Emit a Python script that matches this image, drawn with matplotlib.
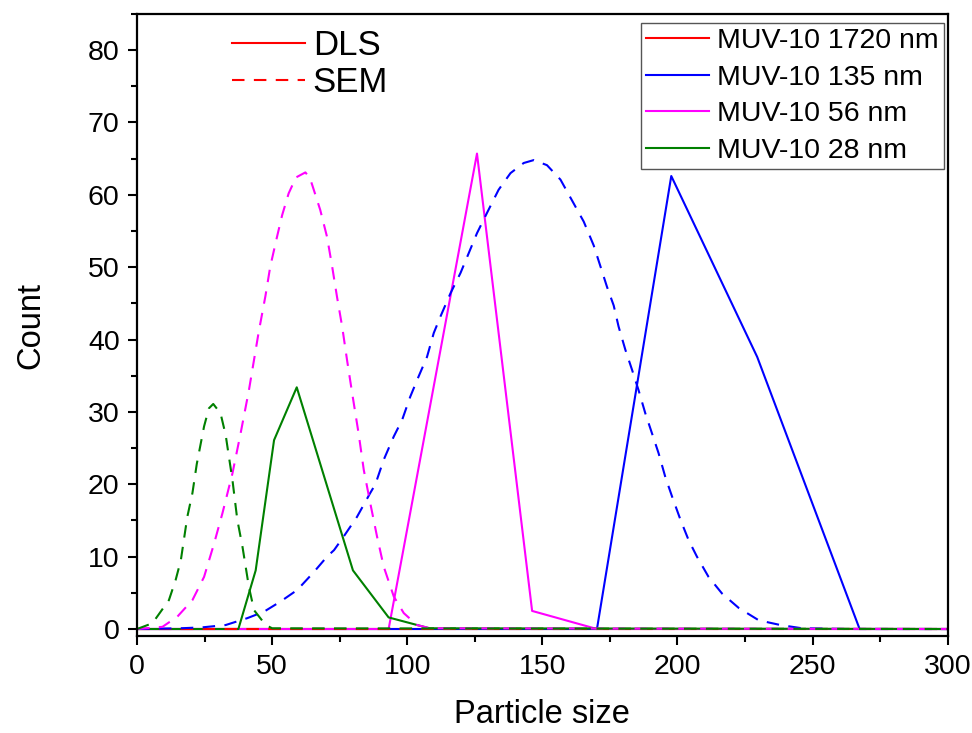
import matplotlib
matplotlib.use("Agg")
import matplotlib.pyplot as plt
from matplotlib.ticker import MultipleLocator

# DLS size distributions (solid lines)
dls_1720_x = [0, 300]
dls_1720_y = [0, 0]
dls_135_x = [0, 170.2, 197.7, 229.5, 267.4, 300]
dls_135_y = [0, 0, 62.6, 37.6, 0, 0]
dls_56_x = [0, 93.1, 125.8, 146.2, 170.2, 300]
dls_56_y = [0, 0, 65.7, 2.5, 0, 0]
dls_28_x = [0, 37.5, 43.9, 50.7, 59.1, 79.9, 93.1, 108.2, 300]
dls_28_y = [0, 0, 8.1, 26.1, 33.4, 8.1, 1.6, 0.1, 0]

# SEM size distributions (dashed lines)
sem_1720_x = [0, 300]
sem_1720_y = [0, 0]
sem_135_x = [0, 16, 24.2, 32.8, 40.8, 47.0, 53.1, 59.3, 65.5, 70.3, 72.9, 76.5,
             81.4, 86.3, 88.2, 91.3, 95.0, 98.1, 101.1, 104.2, 107.3, 109.8,
             112.3, 116.0, 119.7, 122.7, 125.8, 129.5, 133.8, 138.2, 143.1,
             146.8, 151.7, 156.7, 161.6, 165.3, 169.0, 171.5, 173.9, 176.4,
             178.2, 180.7, 183.2, 185.6, 188.1, 190.6, 193.0, 195.5, 198.0,
             201.1, 204.1, 207.2, 211.5, 216.5, 222.7, 230.1, 238.1, 246.1,
             262, 300]
sem_135_y = [0, 0.1, 0.23, 0.55, 1.5, 2.4, 3.8, 5.4, 7.9, 10.0, 10.9, 12.8,
             15.5, 18.8, 20.0, 23.4, 26.6, 28.9, 32.1, 34.9, 37.6, 40.9,
             43.2, 46.4, 49.2, 51.9, 54.7, 57.5, 60.7, 63.0, 64.4,
             64.8, 64.1, 62.1, 58.8, 56.3, 53.0, 50.1, 47.3, 44.7,
             41.8, 38.6, 35.8, 33.0, 29.8, 27.0, 24.3, 21.0, 18.3,
             15.1, 12.3, 10.0, 7.2, 4.9, 2.9, 1.2, 0.55, 0.1,
             0.0, 0]
sem_56_x = [0, 9.4, 14.9, 20.5, 24.8, 28.5, 31.6, 35.3, 38.3, 41.4, 43.2, 45.0,
            47.5, 49.3, 51.8, 53.7, 56.1, 58.8, 62.3, 64.0, 65.4, 67.8, 70.3,
            72.2, 74.0, 75.9, 77.7, 79.6, 82.0, 83.9, 86.3, 88.8, 91.3, 95.0,
            98.7, 103.6, 108.5, 300]
sem_56_y = [0, 0.3, 1.7, 4.0, 7.2, 11.8, 16.0, 21.5, 27.0, 33.0, 37.0, 41.0,
            46.0, 50.1, 54.2, 57.2, 60.2, 62.4, 63.1, 62.3, 60.7, 57.9, 54.2,
            50.1, 45.9, 41.8, 37.2, 32.6, 27.0, 22.0, 17.4, 12.8, 8.6, 4.5,
            2.2, 0.55, 0.1, 0]
sem_28_x = [0, 5.7, 11.8, 14.3, 16.2, 18.6, 20.5, 22.1, 24.8, 26.6, 28.2, 30.9,
            32.8, 34.0, 35.3, 37.1, 39.0, 40.2, 41.4, 43.3, 47.6, 50, 300]
sem_28_y = [0, 0.8, 4.0, 6.8, 9.5, 15.5, 18.8, 22.8, 28.0, 30.5, 31.1, 29.8,
            26.8, 23.8, 20.6, 15.1, 11.4, 8.6, 5.8, 2.6, 0.55, 0.1, 0]

labels = ["MUV-10 1720 nm", "MUV-10 135 nm", "MUV-10 56 nm", "MUV-10 28 nm"]
colors = ["#ff0000", "#0000ff", "#ff00ff", "#008000"]

plt.rcParams["font.family"] = ["Liberation Sans", "DejaVu Sans"]

fig = plt.figure(figsize=(9.72, 7.33), dpi=100)
ax = fig.add_axes([0.141, 0.132, 0.834, 0.849])

dls = [(dls_1720_x, dls_1720_y), (dls_135_x, dls_135_y),
       (dls_56_x, dls_56_y), (dls_28_x, dls_28_y)]
sem = [(sem_1720_x, sem_1720_y), (sem_135_x, sem_135_y),
       (sem_56_x, sem_56_y), (sem_28_x, sem_28_y)]

dls_lines = []
for (x, y), c, lab in zip(dls, colors, labels):
    ln, = ax.plot(x, y, color=c, lw=1.5, label=lab)
    dls_lines.append(ln)
sem_lines = []
for (x, y), c in zip(sem, colors):
    ln, = ax.plot(x, y, color=c, lw=1.5, ls=(0, (6, 4.5)))
    sem_lines.append(ln)

ax.set_xlim(0, 300)
ax.set_ylim(-1, 85)
ax.xaxis.set_major_locator(MultipleLocator(50))
ax.xaxis.set_minor_locator(MultipleLocator(25))
ax.yaxis.set_major_locator(MultipleLocator(10))
ax.yaxis.set_minor_locator(MultipleLocator(5))
ax.tick_params(which="both", direction="out", width=1.5, labelsize=20.5, pad=6)
ax.tick_params(which="major", length=6.5)
ax.tick_params(which="minor", length=4)
for s in ax.spines.values():
    s.set_linewidth(1.6)

ax.set_xlabel("Particle size", fontsize=23.5, labelpad=14)
ax.set_ylabel("Count", fontsize=23.5, labelpad=30)

leg1 = ax.legend([dls_lines[0], sem_lines[0]], ["DLS", "SEM"], loc="upper left",
                 bbox_to_anchor=(0.117, 0.976), frameon=False, fontsize=25,
                 handlelength=2.1, handletextpad=0.23, borderpad=0,
                 borderaxespad=0, labelspacing=0.12)
ax.add_artist(leg1)

leg2 = ax.legend(dls_lines, labels, loc="upper right",
                 bbox_to_anchor=(0.995, 0.9855), fontsize=20.5, fancybox=False,
                 edgecolor="#555555", framealpha=1, handlelength=2.2,
                 handletextpad=0.28, borderpad=0.18, borderaxespad=0,
                 labelspacing=0.37)
leg2.get_frame().set_linewidth(1.0)

fig.savefig("out.png", dpi=100)
